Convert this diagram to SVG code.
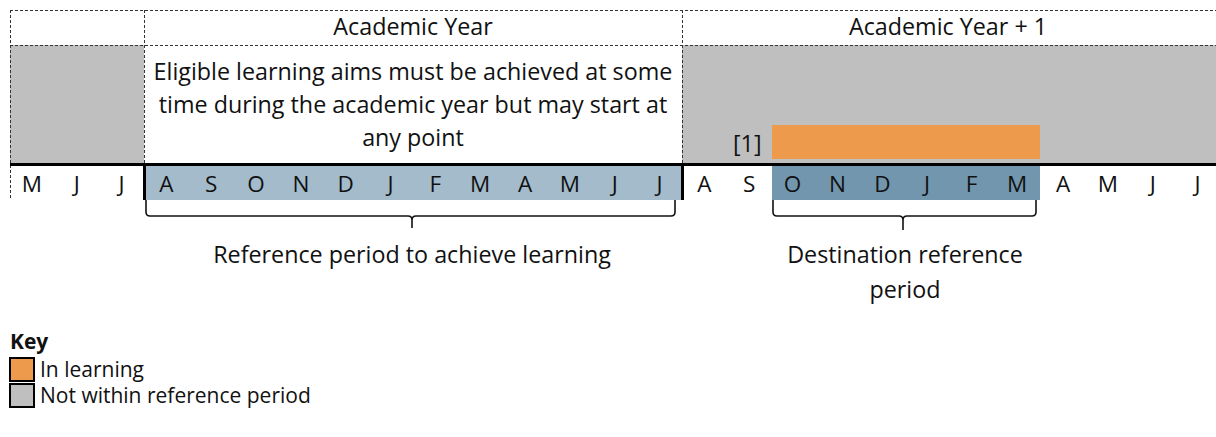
<svg xmlns="http://www.w3.org/2000/svg" width="1216" height="437" viewBox="0 0 1216 437">
  <style>
    text { font-family: "Open Sans", "Liberation Sans", sans-serif; fill: #111; font-size: 23.3px; }
    .c { text-anchor: middle; }
    .m { font-size: 22.5px; }
    .k { font-size: 21px; }
    .b { font-weight: bold; }
    .grey { fill: #BFBFBF; }
    .orange { fill: #EE9A4D; }
    .light { fill: #A3BBCB; }
    .dark { fill: #7196AE; }
    .dash { stroke: #333; stroke-width: 1; stroke-dasharray: 3 2; fill: none; }
    .thick { stroke: #000; stroke-width: 3; fill: none; }
    .brace { stroke: #111; stroke-width: 1.6; fill: none; }
    .keybox { stroke: #000; stroke-width: 2; }
  </style>

  <rect width="1216" height="437" fill="#fff"/>

  <!-- Header row: year labels -->
  <g id="header">
    <text class="c" x="413" y="35">Academic Year</text>
    <text class="c" x="948" y="35">Academic Year + 1</text>
  </g>

  <!-- Body row: shaded periods and the explanatory note -->
  <g id="before-year">
    <rect class="grey" x="10" y="45" width="134" height="119"/>
  </g>
  <g id="year-note">
    <text class="c" x="413" y="80">Eligible learning aims must be achieved at some</text>
    <text class="c" x="413" y="113">time during the academic year but may start at</text>
    <text class="c" x="413" y="146">any point</text>
  </g>
  <g id="next-year">
    <rect class="grey" x="682" y="45" width="534" height="119"/>
  </g>
  <g id="in-learning">
    <rect class="orange" x="772" y="125" width="268" height="34"/>
    <text x="733" y="152">[1]</text>
  </g>

  <!-- Month row -->
  <g id="months" class="m">
    <rect class="light" x="144" y="165" width="538" height="35"/>
    <rect class="dark" x="772" y="165" width="268" height="35"/>
    <text class="c m" x="31.9" y="192">M</text>
    <text class="c m" x="76.8" y="192">J</text>
    <text class="c m" x="121.6" y="192">J</text>
    <text class="c m" x="166.4" y="192">A</text>
    <text class="c m" x="211.2" y="192">S</text>
    <text class="c m" x="256.1" y="192">O</text>
    <text class="c m" x="300.9" y="192">N</text>
    <text class="c m" x="345.7" y="192">D</text>
    <text class="c m" x="390.6" y="192">J</text>
    <text class="c m" x="435.4" y="192">F</text>
    <text class="c m" x="480.2" y="192">M</text>
    <text class="c m" x="525.1" y="192">A</text>
    <text class="c m" x="569.9" y="192">M</text>
    <text class="c m" x="614.7" y="192">J</text>
    <text class="c m" x="659.6" y="192">J</text>
    <text class="c m" x="704.4" y="192">A</text>
    <text class="c m" x="749.2" y="192">S</text>
    <text class="c m" x="792.5" y="192">O</text>
    <text class="c m" x="837.5" y="192">N</text>
    <text class="c m" x="882.5" y="192">D</text>
    <text class="c m" x="927" y="192">J</text>
    <text class="c m" x="971.5" y="192">F</text>
    <text class="c m" x="1017" y="192">M</text>
    <text class="c m" x="1063.1" y="192">A</text>
    <text class="c m" x="1107.9" y="192">M</text>
    <text class="c m" x="1152.7" y="192">J</text>
    <text class="c m" x="1197.6" y="192">J</text>
  </g>

  <!-- Grid lines -->
  <g id="grid">
    <path class="dash" d="M10 10.5 H1216 M10 45.5 H1216 M10.5 10 V200 M144.5 10 V164 M682.5 10 V164"/>
    <path class="thick" d="M10 164.5 H1216 M144.5 164 V200 M682.5 164 V200"/>
  </g>

  <!-- Braces marking the two reference periods -->
  <g id="connectors">
    <path class="brace" d="M146 200 V212 Q146 216 150 216 H408 Q412 216 412 220 V228 M412 220 Q412 216 416 216 H671 Q675 216 675 212 V200"/>
    <path class="brace" d="M773 200 V212 Q773 216 777 216 H899 Q903 216 903 220 V230 M903 220 Q903 216 907 216 H1032 Q1036 216 1036 212 V200"/>
  </g>

  <g id="label-reference">
    <text class="c" x="412" y="263">Reference period to achieve learning</text>
  </g>
  <g id="label-destination">
    <text class="c" x="905" y="263">Destination reference</text>
    <text class="c" x="905" y="298">period</text>
  </g>

  <!-- Key -->
  <g id="key">
    <text class="k b" x="10" y="349">Key</text>
    <rect class="orange keybox" x="10" y="358" width="24" height="23"/>
    <text class="k" x="40" y="377">In learning</text>
    <rect class="grey keybox" x="10" y="384" width="24" height="23"/>
    <text class="k" x="40" y="403">Not within reference period</text>
  </g>
</svg>
